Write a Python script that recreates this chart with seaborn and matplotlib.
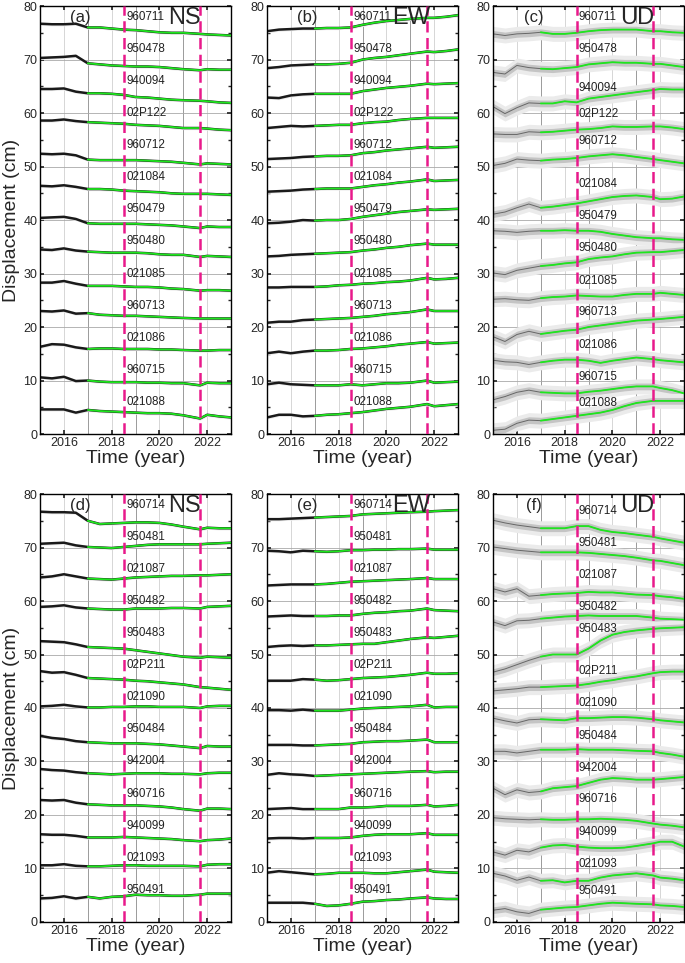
import numpy as np
import pandas as pd
import matplotlib
matplotlib.use("Agg")
import matplotlib.pyplot as plt
import seaborn as sns

years = [2015, 2015.5, 2016, 2016.5, 2017, 2017.5, 2018, 2018.5, 2019,
         2019.5, 2020, 2020.5, 2021, 2021.7, 2022, 2022.5, 2023]
fit_start = 2017.0
events = [2018.5, 2021.7]

top_stations = ["960711", "950478", "940094", "02P122", "960712", "021084", "950479",
                "950480", "021085", "960713", "021086", "960715", "021088"]
bottom_stations = ["960714", "950481", "021087", "950482", "950483", "02P211", "021090",
                   "950484", "942004", "960716", "940099", "021093", "950491"]

ns_top = [
    [76.7, 76.6, 76.6, 76.7, 76.0, 76.0, 75.8, 75.6, 75.5, 75.3, 75.1, 75.0, 75.0, 74.8, 74.7, 74.6, 74.5],
    [70.3, 70.4, 70.5, 70.7, 69.3, 69.1, 68.9, 68.8, 68.7, 68.7, 68.6, 68.4, 68.2, 68.0, 68.2, 68.1, 68.1],
    [64.5, 64.5, 64.6, 64.0, 63.7, 63.7, 63.6, 63.4, 63.0, 62.9, 62.7, 62.5, 62.4, 62.3, 62.2, 62.0, 61.9],
    [58.6, 58.6, 58.8, 58.5, 58.3, 58.2, 58.1, 58.0, 57.8, 57.7, 57.6, 57.4, 57.2, 57.2, 57.1, 56.9, 56.8],
    [52.4, 52.3, 52.4, 52.1, 51.3, 51.2, 51.2, 51.2, 51.2, 51.1, 51.0, 50.9, 50.7, 50.4, 50.6, 50.5, 50.4],
    [46.4, 46.3, 46.5, 46.2, 45.8, 45.8, 45.7, 45.5, 45.4, 45.3, 45.2, 45.0, 44.9, 44.9, 44.9, 44.8, 44.7],
    [40.4, 40.5, 40.6, 40.2, 39.4, 39.3, 39.3, 39.3, 39.3, 39.2, 39.1, 39.0, 38.8, 38.5, 38.8, 38.7, 38.7],
    [34.5, 34.4, 34.7, 34.3, 34.1, 34.0, 33.9, 33.9, 33.9, 33.8, 33.6, 33.5, 33.5, 33.1, 33.3, 33.2, 33.1],
    [28.3, 28.3, 28.6, 28.1, 27.7, 27.7, 27.7, 27.6, 27.5, 27.5, 27.4, 27.2, 27.1, 26.8, 26.9, 26.9, 26.8],
    [23.0, 22.9, 23.1, 22.5, 22.6, 22.3, 22.2, 22.1, 22.1, 22.0, 21.9, 21.8, 21.7, 21.6, 21.6, 21.6, 21.6],
    [16.3, 16.8, 16.7, 16.2, 15.9, 16.0, 16.0, 15.9, 15.9, 15.9, 15.8, 15.8, 15.7, 15.6, 15.6, 15.7, 15.7],
    [10.6, 10.4, 10.7, 9.9, 10.0, 9.8, 9.7, 9.7, 9.7, 9.6, 9.6, 9.5, 9.5, 9.1, 9.6, 9.5, 9.5],
    [4.6, 4.6, 4.6, 4.0, 4.5, 4.3, 4.2, 4.1, 4.0, 3.9, 3.9, 3.8, 3.5, 2.9, 3.6, 3.3, 3.1],
]

ew_top = [
    [75.3, 75.6, 75.7, 75.8, 75.8, 75.9, 75.9, 76.0, 76.5, 76.9, 77.2, 77.4, 77.6, 77.8, 77.8, 78.0, 78.3],
    [68.4, 68.6, 68.9, 69.0, 69.1, 69.1, 69.2, 69.4, 70.0, 70.3, 70.5, 70.8, 71.1, 71.5, 71.4, 71.6, 71.9],
    [62.9, 62.8, 63.3, 63.5, 63.6, 63.6, 63.6, 63.6, 64.1, 64.4, 64.7, 64.9, 65.1, 65.5, 65.4, 65.5, 65.6],
    [57.2, 57.4, 57.6, 57.5, 57.6, 57.7, 57.8, 57.8, 58.1, 58.3, 58.4, 58.7, 58.9, 59.1, 59.1, 59.1, 59.1],
    [51.4, 51.5, 51.6, 51.8, 51.9, 52.0, 52.0, 52.1, 52.5, 52.7, 53.0, 53.2, 53.4, 53.7, 53.5, 53.6, 53.7],
    [45.3, 45.4, 45.5, 45.7, 45.8, 45.9, 45.9, 45.9, 46.2, 46.5, 46.7, 47.0, 47.2, 47.6, 47.3, 47.4, 47.5],
    [39.4, 39.5, 39.7, 40.0, 39.9, 40.0, 40.0, 40.2, 40.6, 40.9, 41.2, 41.5, 41.7, 42.0, 41.9, 42.0, 42.1],
    [33.2, 33.3, 33.5, 33.6, 33.7, 33.8, 33.9, 34.0, 34.3, 34.5, 34.8, 35.0, 35.3, 35.6, 35.4, 35.4, 35.4],
    [27.4, 27.4, 27.5, 27.5, 27.5, 27.6, 27.8, 27.9, 28.1, 28.2, 28.4, 28.5, 28.7, 29.2, 28.9, 29.0, 29.2],
    [20.8, 21.0, 21.0, 21.3, 21.4, 21.5, 21.6, 21.7, 21.9, 22.1, 22.4, 22.6, 22.8, 23.3, 23.0, 23.0, 23.0],
    [15.1, 15.4, 15.1, 15.4, 15.6, 15.6, 15.7, 15.9, 16.0, 16.2, 16.4, 16.7, 16.9, 17.2, 16.9, 17.0, 17.1],
    [9.3, 9.6, 9.3, 9.2, 9.1, 9.1, 9.1, 9.3, 9.1, 9.3, 9.5, 9.5, 9.6, 10.0, 9.6, 9.7, 9.8],
    [3.1, 3.6, 3.6, 3.3, 3.4, 3.6, 3.7, 3.9, 4.1, 4.4, 4.7, 4.9, 5.1, 5.6, 5.2, 5.4, 5.6],
]

ud_top = [
    [74.8, 74.5, 74.8, 74.9, 75.1, 74.8, 74.8, 75.0, 75.3, 75.5, 75.6, 75.6, 75.6, 75.3, 75.3, 75.1, 75.0],
    [67.6, 67.3, 68.9, 68.5, 68.3, 68.2, 68.4, 68.6, 69.1, 69.3, 69.5, 69.4, 69.4, 69.2, 69.2, 68.9, 68.6],
    [61.2, 59.9, 61.0, 61.9, 61.8, 61.8, 62.2, 62.0, 62.7, 63.0, 63.3, 63.6, 63.9, 64.3, 64.5, 64.4, 64.4],
    [56.1, 56.0, 56.0, 56.5, 56.4, 56.5, 56.7, 56.9, 57.0, 57.2, 57.5, 57.4, 57.4, 57.5, 57.5, 57.3, 57.0],
    [50.2, 50.6, 51.4, 51.2, 51.1, 51.3, 51.4, 51.6, 51.9, 52.1, 52.3, 52.1, 51.8, 51.4, 51.2, 50.9, 50.6],
    [41.1, 41.5, 42.3, 43.0, 42.3, 42.5, 42.8, 43.1, 43.5, 43.9, 44.3, 44.5, 44.6, 44.3, 43.9, 44.0, 44.4],
    [38.0, 37.9, 37.7, 37.9, 38.0, 38.0, 38.1, 38.0, 38.0, 37.8, 37.4, 37.1, 36.8, 36.6, 36.6, 36.4, 36.3],
    [30.1, 29.8, 30.6, 31.0, 31.4, 31.6, 31.9, 32.1, 32.7, 33.0, 33.2, 33.6, 33.9, 34.0, 34.0, 34.2, 34.4],
    [25.2, 25.3, 25.1, 25.0, 25.4, 25.6, 25.7, 25.9, 25.8, 25.7, 25.7, 26.0, 26.2, 26.2, 26.4, 26.2, 26.0],
    [18.2, 17.3, 18.6, 19.2, 18.7, 19.0, 19.3, 19.5, 20.0, 20.3, 20.6, 20.9, 21.2, 21.4, 21.5, 21.7, 21.9],
    [13.8, 13.5, 13.4, 13.0, 13.4, 13.7, 13.9, 13.9, 13.7, 13.3, 13.7, 14.0, 14.3, 14.0, 13.8, 13.6, 13.4],
    [6.4, 7.0, 7.8, 8.2, 7.8, 7.7, 7.6, 7.6, 7.9, 8.1, 8.4, 8.7, 8.9, 8.9, 8.6, 8.2, 7.6],
    [0.7, 0.9, 2.0, 2.6, 2.5, 2.8, 3.1, 3.4, 3.7, 4.0, 4.5, 5.2, 5.8, 6.2, 6.2, 6.2, 6.2],
]

ns_bottom = [
    [76.7, 76.6, 76.6, 76.5, 75.0, 74.4, 74.5, 74.6, 74.7, 74.7, 74.6, 74.3, 73.9, 73.4, 73.7, 73.6, 73.6],
    [70.7, 70.8, 70.9, 70.4, 70.1, 70.0, 69.9, 70.1, 70.3, 70.5, 70.6, 70.6, 70.6, 70.6, 70.7, 70.8, 70.9],
    [64.4, 64.6, 65.0, 64.6, 64.2, 64.1, 64.0, 64.2, 64.4, 64.5, 64.6, 64.7, 64.7, 64.8, 64.8, 64.9, 65.0],
    [58.9, 59.0, 59.2, 58.8, 58.6, 58.5, 58.4, 58.4, 58.6, 58.6, 58.6, 58.7, 58.7, 58.6, 58.9, 59.0, 59.1],
    [52.5, 52.4, 52.3, 51.9, 51.4, 51.3, 51.2, 51.1, 50.8, 50.5, 50.2, 49.9, 49.6, 49.4, 49.6, 49.5, 49.4],
    [46.9, 46.6, 46.7, 46.2, 45.6, 45.5, 45.4, 45.3, 45.1, 45.0, 44.8, 44.6, 44.4, 43.9, 43.8, 43.6, 43.4],
    [40.3, 40.4, 40.6, 40.3, 40.1, 40.1, 40.2, 40.2, 40.3, 40.3, 40.2, 40.2, 40.2, 40.0, 40.3, 40.4, 40.4],
    [34.8, 34.4, 34.2, 33.8, 33.6, 33.5, 33.4, 33.4, 33.4, 33.3, 33.2, 33.0, 32.8, 32.5, 32.9, 32.8, 32.8],
    [28.6, 28.4, 28.3, 28.0, 27.8, 27.7, 27.6, 27.7, 27.8, 27.8, 27.8, 27.7, 27.7, 27.6, 27.8, 27.9, 27.9],
    [22.8, 22.7, 22.8, 22.3, 22.0, 21.9, 21.8, 21.8, 21.8, 21.7, 21.6, 21.4, 21.1, 20.8, 21.2, 21.2, 21.1],
    [16.4, 16.3, 16.3, 16.1, 15.8, 15.8, 15.8, 15.9, 15.8, 15.7, 15.6, 15.5, 15.3, 15.1, 15.3, 15.4, 15.6],
    [10.6, 10.6, 10.8, 10.5, 10.4, 10.4, 10.5, 10.6, 10.6, 10.5, 10.5, 10.5, 10.5, 10.4, 10.7, 10.8, 10.8],
    [4.4, 4.5, 4.8, 4.4, 4.7, 4.4, 4.7, 4.8, 5.1, 5.0, 5.0, 4.9, 4.9, 5.1, 5.3, 5.3, 5.3],
]

ew_bottom = [
    [75.3, 75.3, 75.4, 75.5, 75.6, 75.7, 75.8, 75.9, 76.2, 76.3, 76.4, 76.5, 76.6, 76.7, 76.8, 76.9, 77.0],
    [69.4, 69.3, 69.1, 69.4, 69.3, 69.2, 69.3, 69.5, 69.5, 69.6, 69.6, 69.7, 69.7, 69.8, 69.6, 69.6, 69.6],
    [62.9, 63.0, 63.1, 63.1, 63.1, 63.2, 63.4, 63.6, 63.7, 63.8, 63.9, 64.0, 64.1, 64.3, 64.1, 64.1, 64.1],
    [57.1, 57.2, 57.3, 57.2, 57.2, 57.2, 57.3, 57.3, 57.6, 57.8, 57.9, 58.1, 58.2, 58.6, 58.3, 58.2, 58.1],
    [51.4, 51.6, 51.7, 51.6, 51.7, 51.7, 51.8, 51.9, 52.0, 52.0, 52.3, 52.6, 52.9, 53.2, 53.1, 53.3, 53.5],
    [45.1, 45.1, 45.1, 45.4, 45.3, 45.1, 45.2, 45.4, 45.6, 45.7, 45.8, 46.0, 46.2, 46.6, 46.4, 46.4, 46.5],
    [39.6, 39.6, 39.5, 39.7, 39.5, 39.5, 39.5, 39.7, 39.9, 40.0, 40.1, 40.2, 40.3, 40.6, 40.1, 40.2, 40.2],
    [33.1, 33.1, 33.1, 33.0, 33.0, 33.1, 33.2, 33.3, 33.6, 33.7, 33.8, 33.8, 33.9, 34.1, 33.6, 33.6, 33.6],
    [27.5, 27.8, 27.6, 27.5, 27.3, 27.4, 27.5, 27.6, 27.7, 27.8, 27.9, 28.0, 28.1, 28.2, 28.0, 28.1, 28.1],
    [21.1, 21.2, 21.3, 21.1, 21.1, 21.1, 21.1, 21.4, 21.4, 21.5, 21.7, 21.7, 21.7, 21.9, 21.6, 21.7, 21.9],
    [15.6, 15.7, 15.7, 15.6, 15.7, 15.7, 15.7, 15.8, 16.1, 16.3, 16.4, 16.4, 16.4, 16.6, 16.3, 16.3, 16.3],
    [9.2, 9.5, 9.3, 9.1, 8.9, 9.0, 9.2, 9.2, 9.2, 9.1, 9.1, 9.3, 9.5, 9.8, 9.4, 9.3, 9.2],
    [3.6, 3.6, 3.6, 3.6, 3.4, 3.0, 3.1, 3.4, 3.8, 3.9, 4.1, 4.2, 4.4, 4.6, 4.4, 4.3, 4.3],
]

ud_bottom = [
    [75.1, 74.6, 74.2, 73.9, 73.6, 73.6, 73.6, 74.0, 74.0, 73.3, 72.9, 72.7, 72.4, 72.0, 71.7, 71.3, 70.9],
    [70.1, 69.8, 69.5, 69.3, 69.1, 69.1, 69.1, 69.1, 69.0, 68.8, 68.6, 68.4, 68.1, 67.6, 67.5, 67.1, 66.7],
    [62.3, 61.7, 62.3, 60.9, 61.1, 61.3, 61.4, 61.5, 61.7, 61.6, 61.6, 61.4, 61.2, 61.1, 60.9, 60.7, 60.4],
    [56.1, 55.4, 56.3, 56.4, 56.7, 56.9, 57.1, 57.2, 57.3, 57.2, 57.2, 57.2, 57.2, 56.9, 56.7, 56.6, 56.5],
    [46.7, 47.3, 48.1, 48.9, 49.6, 50.0, 50.0, 50.0, 51.1, 52.6, 53.7, 54.2, 54.5, 54.8, 54.9, 55.0, 55.1],
    [43.2, 43.4, 43.6, 43.9, 43.9, 44.0, 44.1, 44.2, 44.5, 44.9, 45.2, 45.6, 45.9, 46.5, 46.7, 46.8, 46.8],
    [38.1, 37.6, 37.2, 37.8, 37.9, 37.8, 37.7, 38.1, 38.1, 38.2, 38.3, 38.3, 38.2, 37.9, 37.7, 37.5, 37.3],
    [31.9, 31.9, 31.6, 31.9, 32.2, 32.2, 32.2, 32.3, 32.2, 32.2, 32.2, 32.1, 32.0, 31.9, 31.6, 31.3, 30.9],
    [25.0, 23.8, 24.7, 24.2, 24.4, 25.0, 25.2, 25.4, 26.0, 26.6, 26.9, 26.8, 26.6, 26.6, 26.7, 26.9, 27.1],
    [19.5, 19.3, 19.2, 19.1, 19.2, 19.1, 19.1, 19.2, 19.2, 19.3, 19.2, 19.1, 18.9, 18.4, 18.2, 18.0, 17.7],
    [13.1, 12.5, 13.4, 13.1, 13.9, 14.3, 14.4, 14.1, 13.9, 13.8, 13.8, 13.9, 14.2, 14.7, 15.0, 15.0, 14.1],
    [9.1, 8.6, 7.8, 8.4, 7.7, 7.8, 7.4, 7.7, 7.7, 8.3, 8.7, 8.9, 9.1, 8.7, 8.3, 8.1, 7.8],
    [2.2, 2.5, 1.9, 1.6, 2.3, 2.5, 2.7, 2.8, 3.1, 3.4, 3.6, 3.5, 3.4, 3.3, 3.1, 3.0, 2.8],
]

# heights of the station name labels
label_y = [78, 72, 66, 60, 54, 48, 42, 36, 30, 24, 18, 12, 6]
label_y_ud_top = [78, 72, 64.7, 59.8, 54.8, 46.7, 40.7, 34.8, 28.6, 22.8, 16.6, 10.7, 5.8]
label_y_ud_bottom = [76.9, 70.9, 64.9, 58.9, 54.8, 46.9, 40.9, 34.8, 28.7, 22.9, 16.9, 10.8, 5.7]

panels = [
    ("(a)", "NS", top_stations, ns_top, label_y, 0.3),
    ("(b)", "EW", top_stations, ew_top, label_y, 0.3),
    ("(c)", "UD", top_stations, ud_top, label_y_ud_top, 1.4),
    ("(d)", "NS", bottom_stations, ns_bottom, label_y, 0.3),
    ("(e)", "EW", bottom_stations, ew_bottom, label_y, 0.3),
    ("(f)", "UD", bottom_stations, ud_bottom, label_y_ud_bottom, 1.4),
]

sns.set_theme(style="white")
plt.rcParams["font.family"] = ["Liberation Sans", "DejaVu Sans"]

fig = plt.figure(figsize=(6.85, 9.63), dpi=100)
lefts = [0.0584, 0.3898, 0.7197]
bottoms = [0.5493, 0.0426]
w, h = 0.279, 0.4444

for k, (tag, comp, stations, series, labs, spread) in enumerate(panels):
    ax = fig.add_axes([lefts[k % 3], bottoms[k // 3], w, h])
    rows = []
    for st, vals in zip(stations, series):
        for t, v in zip(years, vals):
            rows.append((st, t, v))
    df = pd.DataFrame(rows, columns=["station", "year", "disp"])
    fit = df[df["year"] >= fit_start]
    noisy = spread > 1

    # grid
    for yr in range(2016, 2023):
        ax.axvline(yr, color="#8a8a8a" if yr % 2 else "#d0d0d0", lw=0.6, zorder=0)
    for yv in range(10, 80, 10):
        ax.axhline(yv, color="#a8a8a8", lw=0.6, zorder=0)

    # cloud of daily solutions around each series
    for st, vals in zip(stations, series):
        v = np.array(vals)
        ax.fill_between(years, v - spread, v + spread, color="#ebebeb",
                        linewidth=0, zorder=1)
        if noisy:
            ax.fill_between(years, v - 0.45 * spread, v + 0.45 * spread,
                            color="#c4c4c4", linewidth=0, zorder=1)
    sns.lineplot(data=df, x="year", y="disp", units="station", estimator=None,
                 color="#1a1a1a", lw=0.7 if noisy else 1.8,
                 alpha=0.55 if noisy else 1.0, ax=ax, zorder=2)
    sns.lineplot(data=fit, x="year", y="disp", units="station", estimator=None,
                 color="#1ee61e", lw=1.3, ax=ax, zorder=3)

    for ev in events:
        ax.axvline(ev, color="#e8198b", lw=1.8, ls=(0, (4.5, 2.2)), zorder=4)

    for st, ly in zip(stations, labs):
        ax.text(2018.6, ly, st, fontsize=8.4, va="center", ha="left",
                color="#222222", zorder=5)
    ax.text(2016.7, 77.9, tag, fontsize=12, ha="center", va="center", zorder=5)
    ax.text(2021.05, 77.7, comp, fontsize=17, ha="center", va="center", zorder=5)

    ax.set_xlim(2015, 2023)
    ax.set_ylim(0, 80)
    ax.set_xticks([2016, 2018, 2020, 2022])
    ax.set_yticks(range(0, 81, 10))
    ax.set_yticks(range(5, 80, 10), minor=True)
    ax.tick_params(axis="both", which="major", direction="in", length=3,
                   labelsize=9, pad=2, left=True, right=True, bottom=True, top=True)
    ax.tick_params(axis="y", which="minor", direction="in", length=2,
                   left=True, right=True)
    for sp in ax.spines.values():
        sp.set_color("black")
        sp.set_linewidth(1.0)
    ax.set_xlabel("Time (year)", fontsize=14, labelpad=1)
    if k % 3 == 0:
        ax.set_ylabel("Displacement (cm)", fontsize=14, labelpad=2)
    else:
        ax.set_ylabel("")

fig.savefig("out.png", dpi=100)
